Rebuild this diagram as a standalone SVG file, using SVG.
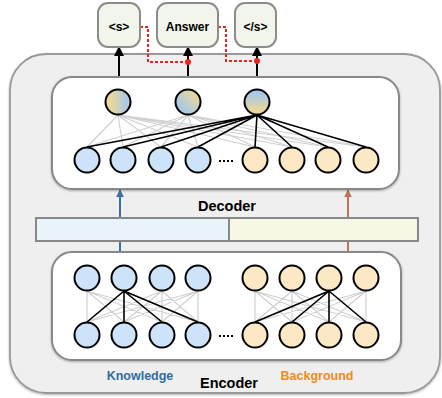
<svg xmlns="http://www.w3.org/2000/svg" width="442" height="398" viewBox="0 0 442 398">
<style>
.lbl{font-family:"Liberation Sans",Arial,sans-serif;font-weight:bold;text-anchor:middle}
.tok{fill:#f1f5ec;stroke:#8c8c8c;stroke-width:2}
.b{fill:#cde3f9;stroke:#000;stroke-width:2}
.o{fill:#fde8c6;stroke:#000;stroke-width:2}
.g{stroke:#d0d0d0;stroke-width:1.2;fill:none}
.k{stroke:#000;stroke-width:1.6;fill:none}
.red{stroke:#e8261e;stroke-width:2;stroke-dasharray:3 2;fill:none}
</style>
<defs>
<linearGradient id="g1" x1="0" y1="0" x2="1" y2="0"><stop offset="0.2" stop-color="#ecd898"/><stop offset="0.85" stop-color="#a9c9e6"/></linearGradient>
<linearGradient id="g2" x1="0" y1="1" x2="1" y2="0"><stop offset="0.25" stop-color="#a9c9e6"/><stop offset="0.85" stop-color="#ecd898"/></linearGradient>
<linearGradient id="g3" x1="0" y1="0" x2="0" y2="1"><stop offset="0.2" stop-color="#a9c9e6"/><stop offset="0.85" stop-color="#ecd898"/></linearGradient>
<marker id="ak" viewBox="0 0 10 10" refX="9" refY="5" markerWidth="5" markerHeight="5" orient="auto"><path d="M0,0L10,5L0,10z" fill="#000"/></marker>
<marker id="ab" viewBox="0 0 10 10" refX="9" refY="5" markerWidth="4" markerHeight="4" orient="auto"><path d="M0,0L10,5L0,10z" fill="#3d6fa0"/></marker>
<marker id="ao" viewBox="0 0 10 10" refX="9" refY="5" markerWidth="4" markerHeight="4" orient="auto"><path d="M0,0L10,5L0,10z" fill="#c0735a"/></marker>
<filter id="sh" x="-10%" y="-10%" width="120%" height="120%"><feDropShadow dx="0" dy="1" stdDeviation="1.2" flood-color="#000" flood-opacity="0.3"/></filter>
</defs>

<g id="outer"><rect x="10" y="54" width="430" height="339" rx="36" fill="#efefef" stroke="#999" stroke-width="1.8" filter="url(#sh)"/></g>

<g id="connectors">
<line x1="120" y1="252" x2="120" y2="190" stroke="#3d6fa0" stroke-width="2" marker-end="url(#ab)"/>
<line x1="348" y1="252" x2="348" y2="190" stroke="#c0735a" stroke-width="2" marker-end="url(#ao)"/>
<line x1="119" y1="77" x2="119" y2="47" stroke="#000" stroke-width="2" marker-end="url(#ak)"/>
<line x1="188" y1="77" x2="188" y2="47" stroke="#000" stroke-width="2" marker-end="url(#ak)"/>
<line x1="257" y1="77" x2="257" y2="47" stroke="#000" stroke-width="2" marker-end="url(#ak)"/>
<path class="red" d="M140,27H148V62H188"/>
<path class="red" d="M218,27H226V61H257"/>
<circle cx="188" cy="62" r="3" fill="#e8261e"/>
<circle cx="257" cy="61" r="3" fill="#e8261e"/>
</g>

<g id="bar">
<rect x="36" y="218" width="193" height="23" fill="#e8f3fa" stroke="#888" stroke-width="2"/>
<rect x="229" y="218" width="189" height="23" fill="#f7f7e6" stroke="#888" stroke-width="2"/>
</g>

<g id="tok-s"><rect class="tok" x="98" y="3" width="42" height="44" rx="10"/><text class="lbl" x="119" y="31" font-size="12">&lt;s&gt;</text></g>
<g id="tok-answer"><rect class="tok" x="157" y="3" width="61" height="44" rx="10"/><text class="lbl" x="187.5" y="31" font-size="12">Answer</text></g>
<g id="tok-end"><rect class="tok" x="235" y="3" width="41" height="44" rx="10"/><text class="lbl" x="255.5" y="31" font-size="12">&lt;/s&gt;</text></g>

<g id="decoder">
<rect x="52" y="77" width="347" height="112" rx="20" fill="#fff" stroke="#888" stroke-width="2" filter="url(#sh)"/>
<g class="g">
<path d="M118,115L87,147M118,115L123,147M118,115L161,147M118,115L198,147M118,115L255,147M118,115L292,147M118,115L328,147M118,115L366,147"/>
<path d="M188,115L87,147M188,115L123,147M188,115L161,147M188,115L198,147M188,115L255,147M188,115L292,147M188,115L328,147M188,115L366,147"/>
</g>
<path class="k" d="M257,115L87,147M257,115L123,147M257,115L161,147M257,115L198,147M257,115L255,147M257,115L292,147M257,115L328,147M257,115L366,147"/>
<circle cx="118" cy="102" r="12.5" fill="url(#g1)" stroke="#000" stroke-width="2"/>
<circle cx="188" cy="102" r="12.5" fill="url(#g2)" stroke="#000" stroke-width="2"/>
<circle cx="257" cy="102" r="12.5" fill="url(#g3)" stroke="#000" stroke-width="2"/>
<circle class="b" cx="87" cy="160" r="12.5"/><circle class="b" cx="123" cy="160" r="12.5"/><circle class="b" cx="161" cy="160" r="12.5"/><circle class="b" cx="198" cy="160" r="12.5"/>
<circle class="o" cx="255" cy="160" r="12.5"/><circle class="o" cx="292" cy="160" r="12.5"/><circle class="o" cx="328" cy="160" r="12.5"/><circle class="o" cx="366" cy="160" r="12.5"/>
<path d="M219,161H235" stroke="#000" stroke-width="2" stroke-dasharray="2 2"/>
<text class="lbl" x="227" y="211" font-size="14.5">Decoder</text>
</g>

<g id="encoder">
<rect x="52" y="252" width="349" height="108" rx="20" fill="#fff" stroke="#888" stroke-width="2" filter="url(#sh)"/>
<g class="g">
<path d="M87,291L87,322M87,291L124,322M87,291L162,322M87,291L198,322M124,291L87,322M124,291L162,322M124,291L198,322M162,291L87,322M162,291L124,322M162,291L162,322M162,291L198,322M198,291L87,322M198,291L124,322M198,291L162,322M198,291L198,322"/>
<path d="M255,291L255,322M255,291L292,322M255,291L329,322M255,291L366,322M292,291L255,322M292,291L292,322M292,291L329,322M292,291L366,322M329,291L255,322M329,291L292,322M366,291L255,322M366,291L292,322M366,291L329,322M366,291L366,322"/>
</g>
<path class="k" d="M124,291L87,322M124,291L124,322M124,291L162,322M124,291L198,322"/>
<path class="k" d="M329,291L255,322M329,291L292,322M329,291L329,322M329,291L366,322"/>
<circle class="b" cx="87" cy="278" r="12.5"/><circle class="b" cx="124" cy="278" r="12.5"/><circle class="b" cx="162" cy="278" r="12.5"/><circle class="b" cx="198" cy="278" r="12.5"/>
<circle class="o" cx="255" cy="278" r="12.5"/><circle class="o" cx="292" cy="278" r="12.5"/><circle class="o" cx="329" cy="278" r="12.5"/><circle class="o" cx="366" cy="278" r="12.5"/>
<circle class="b" cx="87" cy="335" r="12.5"/><circle class="b" cx="124" cy="335" r="12.5"/><circle class="b" cx="162" cy="335" r="12.5"/><circle class="b" cx="198" cy="335" r="12.5"/>
<circle class="o" cx="255" cy="335" r="12.5"/><circle class="o" cx="292" cy="335" r="12.5"/><circle class="o" cx="329" cy="335" r="12.5"/><circle class="o" cx="366" cy="335" r="12.5"/>
<path d="M219,336H235" stroke="#000" stroke-width="2" stroke-dasharray="2 2"/>
<text class="lbl" x="229" y="388" font-size="14.5">Encoder</text>
<text class="lbl" x="140" y="380" font-size="12.5" fill="#2f6ea3">Knowledge</text>
<text class="lbl" x="317" y="380" font-size="12.5" fill="#f08a24">Background</text>
</g>
</svg>
